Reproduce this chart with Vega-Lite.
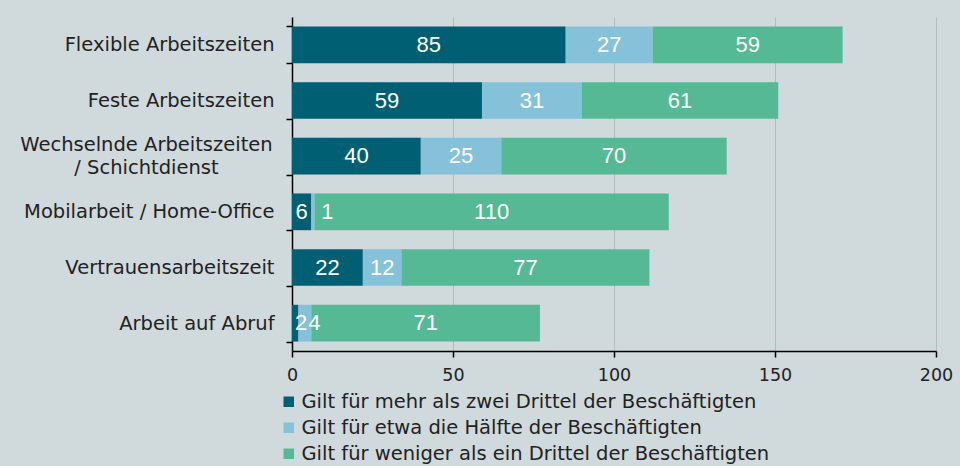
{
  "$schema": "https://vega.github.io/schema/vega-lite/v6.json",
  "autosize": {"type": "none"},
  "width": 644,
  "height": 334,
  "padding": {"left": 292, "top": 17, "right": 24, "bottom": 115},
  "background": "#d0d9db",
  "config": {"view": {"stroke": null}, "font": "DejaVu Sans"},
  "data": {"values": [
    {"kategorie": "Flexible Arbeitszeiten", "gruppe": "Gilt für mehr als zwei Drittel der Beschäftigten", "ord": 1, "wert": 85},
    {"kategorie": "Flexible Arbeitszeiten", "gruppe": "Gilt für etwa die Hälfte der Beschäftigten", "ord": 2, "wert": 27},
    {"kategorie": "Flexible Arbeitszeiten", "gruppe": "Gilt für weniger als ein Drittel der Beschäftigten", "ord": 3, "wert": 59},
    {"kategorie": "Feste Arbeitszeiten", "gruppe": "Gilt für mehr als zwei Drittel der Beschäftigten", "ord": 1, "wert": 59},
    {"kategorie": "Feste Arbeitszeiten", "gruppe": "Gilt für etwa die Hälfte der Beschäftigten", "ord": 2, "wert": 31},
    {"kategorie": "Feste Arbeitszeiten", "gruppe": "Gilt für weniger als ein Drittel der Beschäftigten", "ord": 3, "wert": 61},
    {"kategorie": "Wechselnde Arbeitszeiten / Schichtdienst", "gruppe": "Gilt für mehr als zwei Drittel der Beschäftigten", "ord": 1, "wert": 40},
    {"kategorie": "Wechselnde Arbeitszeiten / Schichtdienst", "gruppe": "Gilt für etwa die Hälfte der Beschäftigten", "ord": 2, "wert": 25},
    {"kategorie": "Wechselnde Arbeitszeiten / Schichtdienst", "gruppe": "Gilt für weniger als ein Drittel der Beschäftigten", "ord": 3, "wert": 70},
    {"kategorie": "Mobilarbeit / Home-Office", "gruppe": "Gilt für mehr als zwei Drittel der Beschäftigten", "ord": 1, "wert": 6},
    {"kategorie": "Mobilarbeit / Home-Office", "gruppe": "Gilt für etwa die Hälfte der Beschäftigten", "ord": 2, "wert": 1},
    {"kategorie": "Mobilarbeit / Home-Office", "gruppe": "Gilt für weniger als ein Drittel der Beschäftigten", "ord": 3, "wert": 110},
    {"kategorie": "Vertrauensarbeitszeit", "gruppe": "Gilt für mehr als zwei Drittel der Beschäftigten", "ord": 1, "wert": 22},
    {"kategorie": "Vertrauensarbeitszeit", "gruppe": "Gilt für etwa die Hälfte der Beschäftigten", "ord": 2, "wert": 12},
    {"kategorie": "Vertrauensarbeitszeit", "gruppe": "Gilt für weniger als ein Drittel der Beschäftigten", "ord": 3, "wert": 77},
    {"kategorie": "Arbeit auf Abruf", "gruppe": "Gilt für mehr als zwei Drittel der Beschäftigten", "ord": 1, "wert": 2},
    {"kategorie": "Arbeit auf Abruf", "gruppe": "Gilt für etwa die Hälfte der Beschäftigten", "ord": 2, "wert": 4},
    {"kategorie": "Arbeit auf Abruf", "gruppe": "Gilt für weniger als ein Drittel der Beschäftigten", "ord": 3, "wert": 71}
  ]},
  "transform": [
    {"stack": "wert", "groupby": ["kategorie"], "sort": [{"field": "ord", "order": "ascending"}], "as": ["x0", "x1"]}
  ],
  "encoding": {
    "y": {
      "field": "kategorie",
      "type": "nominal",
      "sort": ["Flexible Arbeitszeiten", "Feste Arbeitszeiten", "Wechselnde Arbeitszeiten / Schichtdienst", "Mobilarbeit / Home-Office", "Vertrauensarbeitszeit", "Arbeit auf Abruf"],
      "scale": {"paddingInner": 0.34, "paddingOuter": 0.17},
      "axis": {
        "title": null,
        "domainColor": "#000000",
        "domainWidth": 1.5,
        "tickColor": "#000000",
        "tickWidth": 1.5,
        "tickSize": 6,
        "tickBand": "extent",
        "labelFontSize": 19.5,
        "labelColor": "#222222",
        "labelLimit": 400,
        "labelLineHeight": 23,
        "labelExpr": "datum.label == 'Wechselnde Arbeitszeiten / Schichtdienst' ? ['Wechselnde Arbeitszeiten', '/ Schichtdienst'] : datum.label",
        "labelAlign": {"condition": {"test": "datum.label == 'Wechselnde Arbeitszeiten / Schichtdienst'", "value": "center"}, "value": "right"},
        "labelPadding": {"condition": {"test": "datum.label == 'Wechselnde Arbeitszeiten / Schichtdienst'", "value": 140}, "value": 12},
        "labelOffset": {"condition": {"test": "datum.label == 'Wechselnde Arbeitszeiten / Schichtdienst'", "value": -11.5}, "value": 0}
      }
    }
  },
  "layer": [
    {
      "mark": {"type": "bar"},
      "encoding": {
        "x": {
          "field": "x0",
          "type": "quantitative",
          "scale": {"domain": [0, 200], "nice": false},
          "axis": {
            "title": null,
            "values": [0, 50, 100, 150, 200],
            "labelFlush": false,
            "domainColor": "#000000",
            "domainWidth": 1.5,
            "tickColor": "#000000",
            "tickWidth": 1.5,
            "tickSize": 6,
            "labelFontSize": 17.5,
            "labelColor": "#222222",
            "labelPadding": 9,
            "grid": true,
            "gridColor": "#b3bbbd",
            "gridWidth": 1
          }
        },
        "x2": {"field": "x1"},
        "color": {
          "field": "gruppe",
          "type": "nominal",
          "sort": ["Gilt für mehr als zwei Drittel der Beschäftigten", "Gilt für etwa die Hälfte der Beschäftigten", "Gilt für weniger als ein Drittel der Beschäftigten"],
          "scale": {
            "domain": ["Gilt für mehr als zwei Drittel der Beschäftigten", "Gilt für etwa die Hälfte der Beschäftigten", "Gilt für weniger als ein Drittel der Beschäftigten"],
            "range": ["#005f72", "#85c2da", "#55b996"]
          },
          "legend": {
            "title": null,
            "orient": "none",
            "direction": "vertical",
            "legendX": -13,
            "legendY": 375,
            "symbolType": "square",
            "symbolSize": 110,
            "symbolStrokeWidth": 0,
            "labelFontSize": 19.5,
            "labelColor": "#222222",
            "labelLimit": 700,
            "labelOffset": 3,
            "rowPadding": 5
          }
        }
      }
    },
    {
      "mark": {"type": "text", "color": "white", "fontSize": 22, "font": "Liberation Sans", "dx": {"expr": "max((scale('x', datum.x1) - scale('x', datum.x0)) / 2, datum.ord == 1 ? 9 : 16)"}},
      "encoding": {
        "x": {"field": "x0", "type": "quantitative"},
        "text": {"field": "wert", "type": "quantitative"}
      }
    }
  ]
}
